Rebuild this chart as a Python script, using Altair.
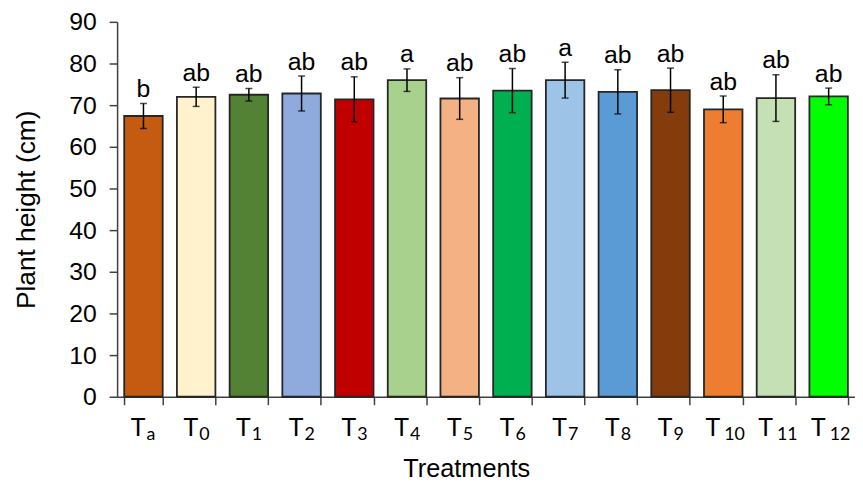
import altair as alt
import pandas as pd

subscripts = ["a", "0", "1", "2", "3", "4", "5", "6", "7", "8", "9", "10", "11", "12"]
treatments = ["T" + s for s in subscripts]
heights = [67.4, 72.0, 72.5, 72.8, 71.4, 76.0, 71.6, 73.5, 76.0, 73.2, 73.6, 69.0, 71.7, 72.1]
errors = [3.0, 2.3, 1.5, 4.2, 5.4, 2.7, 5.0, 5.3, 4.3, 5.3, 5.3, 3.2, 5.6, 2.0]
letters = ["b", "ab", "ab", "ab", "ab", "a", "ab", "ab", "a", "ab", "ab", "ab", "ab", "ab"]
colors = ["#C55A11", "#FFF2CC", "#548235", "#8FAADC", "#C00000", "#A9D18E", "#F4B183",
          "#00B050", "#9DC3E6", "#5B9BD5", "#843C0C", "#ED7D31", "#C5E0B4", "#00FF00"]

df = pd.DataFrame({"cat": treatments, "sub": subscripts, "h": heights,
                   "e": errors, "lab": letters})
df["lo"] = df["h"] - df["e"]
df["hi"] = df["h"] + df["e"]
df["T"] = "T"

W, H = 744, 378
AX = "#404040"

x = alt.X("cat:N", sort=treatments,
          scale=alt.Scale(paddingInner=0.27, paddingOuter=0.135),
          axis=alt.Axis(title="Treatments", labels=False, tickBand="extent",
                        tickSize=8, tickColor=AX, domainColor=AX,
                        domainWidth=1.5, tickWidth=1.5,
                        titleFont="Liberation Sans", titleFontSize=25.5,
                        titleFontWeight="normal", titleColor="#000000",
                        titleX=352, titleY=80, titleAlign="center",
                        titleBaseline="alphabetic"))
xs = alt.X("cat:N", sort=treatments)

yscale = alt.Scale(domain=[0, 90], nice=False)
y = alt.Y("h:Q", scale=yscale,
          axis=alt.Axis(title="Plant height (cm)", values=list(range(0, 91, 10)),
                        grid=False, tickSize=8, tickColor=AX,
                        domainColor=AX, domainWidth=1.5, tickWidth=1.5,
                        labelFont="Liberation Sans", labelFontSize=25,
                        labelColor="#000000", labelPadding=13,
                        titleFont="Liberation Sans", titleFontSize=26.5,
                        titleFontWeight="normal", titleColor="#000000",
                        titleX=-83, titleY=H / 2, titleAngle=-90,
                        titleAlign="center", titleBaseline="alphabetic"))

base = alt.Chart(df)

bars = base.mark_bar(stroke="#262626", strokeWidth=1.8).encode(
    x=x, y=y,
    color=alt.Color("cat:N", sort=treatments,
                    scale=alt.Scale(domain=treatments, range=colors), legend=None))

rules = base.mark_rule(color="#000000", strokeWidth=1.5).encode(
    x=xs, y=alt.Y("lo:Q", scale=yscale), y2="hi:Q")

tick_lo = base.mark_tick(color="#000000", size=7, thickness=1.5, orient="horizontal").encode(
    x=xs, y=alt.Y("lo:Q", scale=yscale))
tick_hi = base.mark_tick(color="#000000", size=7, thickness=1.5, orient="horizontal").encode(
    x=xs, y=alt.Y("hi:Q", scale=yscale))

text = base.mark_text(font="Liberation Sans", fontSize=25, color="#000000",
                      baseline="alphabetic", dy=-6.5).encode(
    x=xs, y=alt.Y("hi:Q", scale=yscale), text="lab:N")

# category labels: "T" with a lowered, smaller subscript
one = base.transform_filter("length(datum.sub) == 1")
two = base.transform_filter("length(datum.sub) == 2")
T_BASE = H + 40
S_BASE = H + 43.5
t1 = one.mark_text(font="Lato", fontSize=25, color="#000000", align="center",
                   baseline="alphabetic", dx=-5.5).encode(x=xs, y=alt.value(T_BASE), text="T:N")
s1 = one.mark_text(font="Lato", fontSize=18, color="#000000", align="left",
                   baseline="alphabetic", dx=3).encode(x=xs, y=alt.value(S_BASE), text="sub:N")
t2 = two.mark_text(font="Lato", fontSize=25, color="#000000", align="center",
                   baseline="alphabetic", dx=-10.5).encode(x=xs, y=alt.value(T_BASE), text="T:N")
s2 = two.mark_text(font="Lato", fontSize=18, color="#000000", align="left",
                   baseline="alphabetic", dx=1).encode(x=xs, y=alt.value(S_BASE), text="sub:N")

chart = alt.layer(bars, rules, tick_lo, tick_hi, text, t1, s1, t2, s2).properties(
    width=W, height=H,
    autosize=alt.AutoSizeParams(type="none"),
    padding={"left": 110, "top": 12, "right": 0, "bottom": 85},
).configure_view(stroke=None)

chart.save("out.html", embed_options={"renderer": "svg", "actions": False})
